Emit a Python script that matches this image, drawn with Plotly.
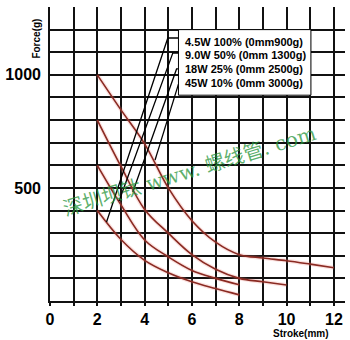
import plotly.graph_objects as go

# ---- data ----
stroke_a = [2, 3, 4, 5, 6, 7, 8, 9, 10, 11, 12]
force_a = [1000, 845, 695, 500, 355, 260, 205, 190, 178, 163, 147]
stroke_b = [2, 3, 4, 5, 6, 7, 8, 9, 10]
force_b = [800, 595, 405, 300, 205, 140, 100, 85, 71]
stroke_c = [2, 3, 4, 5, 6, 7, 8]
force_c = [600, 425, 270, 195, 135, 100, 72]
stroke_d = [2, 3, 4, 5, 6, 7, 8]
force_d = [400, 272, 180, 125, 85, 55, 27]

x_ticks = list(range(0, 13))
x_ticktext = [str(v) if v % 2 == 0 else "" for v in x_ticks]
y_ticks = list(range(0, 1300, 100))
y_ticktext = [str(v) if v in (500, 1000) else "" for v in y_ticks]

legend_labels = ["4.5W 100% (0mm900g)", "9.0W 50% (0mm 1300g)",
                 "18W 25% (0mm 2500g)", "45W 10% (0mm 3000g)"]
legend_text_y = [1146, 1088, 1025, 966]
# leader lines: box edge -> elbow -> curve point
leader_x = [[5.43, 4.98, 2.39], [5.43, 5.19, 2.92], [5.43, 5.35, 3.50], [5.43, 5.43, 4.44]]
leader_y = [[1163, 1163, 349], [1096, 1096, 442], [1026, 1026, 482], [959, 959, 623]]

curve_color = "#8a2a22"
glow_color = "rgba(235,125,115,0.22)"
grid_color = "#111111"

fig = go.Figure()

for xs, ys in [(stroke_a, force_a), (stroke_b, force_b), (stroke_c, force_c), (stroke_d, force_d)]:
    fig.add_trace(go.Scatter(x=xs, y=ys, mode="lines", line=dict(color=glow_color, width=4, shape="spline"),
                             hoverinfo="skip", showlegend=False))
    fig.add_trace(go.Scatter(x=xs, y=ys, mode="lines", line=dict(color=curve_color, width=1.6, shape="spline"),
                             showlegend=False))

for lx, ly in zip(leader_x, leader_y):
    fig.add_trace(go.Scatter(x=lx, y=ly, mode="lines", line=dict(color="black", width=1.3),
                             hoverinfo="skip", showlegend=False))

# legend box
fig.add_shape(type="rect", x0=5.43, x1=11.03, y0=910, y1=1200, xref="x", yref="y",
              fillcolor="white", line=dict(color="black", width=1), layer="above")

for lab, yy in zip(legend_labels, legend_text_y):
    fig.add_annotation(x=5.62, y=yy, xref="x", yref="y", text=lab, showarrow=False,
                       xanchor="left", yanchor="middle",
                       font=dict(family="Liberation Sans, Arial", size=11, color="black", weight="bold"))

# watermark
fig.add_annotation(x=5.9, y=575, xref="x", yref="y", text="深圳坝钛 www. 螺线管. com",
                   showarrow=False, textangle=-17, xanchor="center", yanchor="middle",
                   font=dict(family="DejaVu Serif, Noto Sans CJK SC", size=20, color="rgba(40,150,60,0.75)"))

# axis titles
fig.add_annotation(x=-0.046, y=0.894, xref="paper", yref="paper", text="Force(g)", showarrow=False,
                   textangle=-90, xanchor="center", yanchor="middle",
                   font=dict(family="Liberation Sans, Arial", size=10, color="black", weight="bold"))
fig.add_annotation(x=0.851, y=-0.109, xref="paper", yref="paper", text="Stroke(mm)", showarrow=False,
                   xanchor="center", yanchor="middle",
                   font=dict(family="Liberation Sans, Arial", size=10, color="black", weight="bold"))

fig.update_layout(
    width=350, height=340,
    margin=dict(l=42, r=5, t=7, b=39),
    paper_bgcolor="white", plot_bgcolor="white",
    font=dict(family="Liberation Sans, Arial", color="black"),
    xaxis=dict(range=[0, 12.47], tickvals=x_ticks, ticktext=x_ticktext, showgrid=True,
               gridcolor=grid_color, gridwidth=1.7, showline=True, linecolor=grid_color, linewidth=1.7,
               zeroline=False, ticks="outside", ticklen=3, tickcolor=grid_color, tickwidth=1.5,
               tickfont=dict(size=16, weight="bold"), fixedrange=True),
    yaxis=dict(range=[0, 1300], tickvals=y_ticks, ticktext=y_ticktext, showgrid=True,
               gridcolor=grid_color, gridwidth=1.7, showline=True, linecolor=grid_color, linewidth=1.7,
               zeroline=False, ticks="", ticklabelstandoff=4, tickfont=dict(size=16, weight="bold"),
               fixedrange=True),
)

fig.write_html("out.html")
